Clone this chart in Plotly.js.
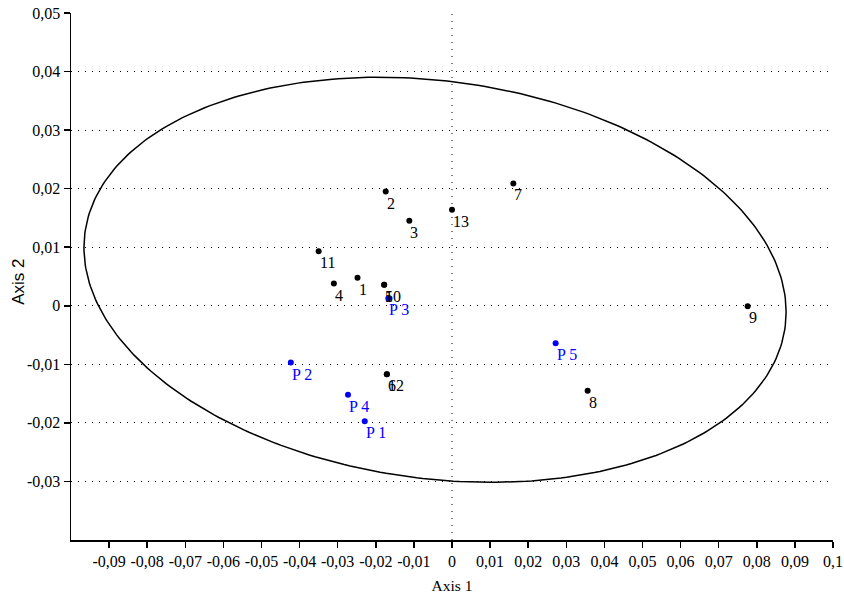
<!DOCTYPE html>
<html>
<head>
<meta charset="utf-8">
<script src="https://cdn.plot.ly/plotly-3.0.1.min.js"></script>
<style>html,body{margin:0;padding:0;background:#fff;}#chart{width:844px;height:596px;}</style>
</head>
<body>
<div id="chart"></div>
<script>
// Objects (black)
const objLabels = ["1","2","3","4","5","6","7","8","9","10","11","12","13"];
const objX = [-0.0248,-0.0174,-0.0112,-0.0310,-0.0178,-0.0171,0.0161,0.0356,0.0776,-0.0178,-0.0350,-0.0171,0.0000];
const objY = [0.0048,0.0195,0.0145,0.0038,0.0036,-0.0117,0.0209,-0.0145,-0.0001,0.0036,0.0093,-0.0117,0.0164];

// Panelists (blue)
const panLabels = ["P 1","P 2","P 3","P 4","P 5"];
const panX = [-0.0229,-0.0423,-0.0167,-0.0273,0.0272];
const panY = [-0.0197,-0.0097,0.0013,-0.0152,-0.0064];

// Confidence ellipse parameters (centre, half-width, half-height, covariance term)
const ellCX = -0.00445, ellCY = 0.00444, ellW = 0.09215, ellH = 0.03459, ellSXY = -0.000507;

// Axis ticks
const xTickVals = [-0.09,-0.08,-0.07,-0.06,-0.05,-0.04,-0.03,-0.02,-0.01,0,0.01,0.02,0.03,0.04,0.05,0.06,0.07,0.08,0.09,0.1];
const xTickText = ["-0,09","-0,08","-0,07","-0,06","-0,05","-0,04","-0,03","-0,02","-0,01","0","0,01","0,02","0,03","0,04","0,05","0,06","0,07","0,08","0,09","0,1"];
const yTickVals = [-0.03,-0.02,-0.01,0,0.01,0.02,0.03,0.04,0.05];
const yTickText = ["-0,03","-0,02","-0,01","0","0,01","0,02","0,03","0,04","0,05"];

// Build ellipse outline from its parameters
const ex = [], ey = [];
const k = ellSXY / ellW;
const m = Math.sqrt(ellH * ellH - k * k);
for (let i = 0; i <= 360; i++) {
  const t = i * Math.PI / 180;
  ex.push(ellCX + ellW * Math.cos(t));
  ey.push(ellCY + k * Math.cos(t) + m * Math.sin(t));
}

const serif = "Liberation Serif";

const traces = [
  {x: ex, y: ey, mode: "lines", line: {color: "#000", width: 1.5}, hoverinfo: "skip", showlegend: false},
  {x: objX, y: objY, mode: "markers", marker: {color: "#000", size: 6}, showlegend: false},
  {x: panX, y: panY, mode: "markers", marker: {color: "#0000ff", size: 6}, showlegend: false}
];

function labelAnn(xs, ys, labels, color) {
  return labels.map((t, i) => ({
    x: xs[i], y: ys[i], xref: "x", yref: "y", text: t, showarrow: false,
    xanchor: "left", yanchor: "top", xshift: -1, yshift: -1,
    font: {family: serif, size: 16, color: color}
  }));
}

const annotations = [
  ...labelAnn(objX, objY, objLabels, "#000"),
  ...labelAnn(panX, panY, panLabels, "#0000ff"),
  {xref: "paper", yref: "paper", x: 0, y: 0.49, xshift: -52, text: "Axis 2", textangle: -90,
   showarrow: false, xanchor: "center", yanchor: "middle",
   font: {family: "Liberation Sans", size: 17, color: "#000"}}
];

const layout = {
  width: 844, height: 596,
  margin: {l: 71, r: 11, t: 13, b: 56},
  paper_bgcolor: "#fff", plot_bgcolor: "#fff",
  showlegend: false,
  font: {family: serif, color: "#000"},
  xaxis: {
    range: [-0.1, 0.1], tickvals: xTickVals, ticktext: xTickText,
    showgrid: false, zeroline: false,
    showline: true, linecolor: "#000", linewidth: 1.5,
    ticks: "outside", ticklen: 6, tickwidth: 1.5, tickcolor: "#000",
    tickfont: {family: serif, size: 16, color: "#000"},
    title: {text: "Axis 1", font: {family: serif, size: 15.5, color: "#000"}, standoff: 11}
  },
  yaxis: {
    range: [-0.04, 0.05], tickvals: yTickVals, ticktext: yTickText,
    showgrid: true, gridcolor: "#000", gridwidth: 1, griddash: "1px,6px",
    zeroline: false,
    showline: true, linecolor: "#000", linewidth: 1.5,
    ticks: "outside", ticklen: 6, tickwidth: 1.5, tickcolor: "#000",
    tickfont: {family: serif, size: 16, color: "#000"}
  },
  annotations: annotations,
  shapes: [
    {type: "line", xref: "x", yref: "paper", x0: 0, x1: 0, y0: 0, y1: 1, layer: "below",
     line: {color: "#000", width: 1, dash: "1px,6px"}}
  ]
};

Plotly.newPlot("chart", traces, layout, {displayModeBar: false, staticPlot: true});
</script>
</body>
</html>
